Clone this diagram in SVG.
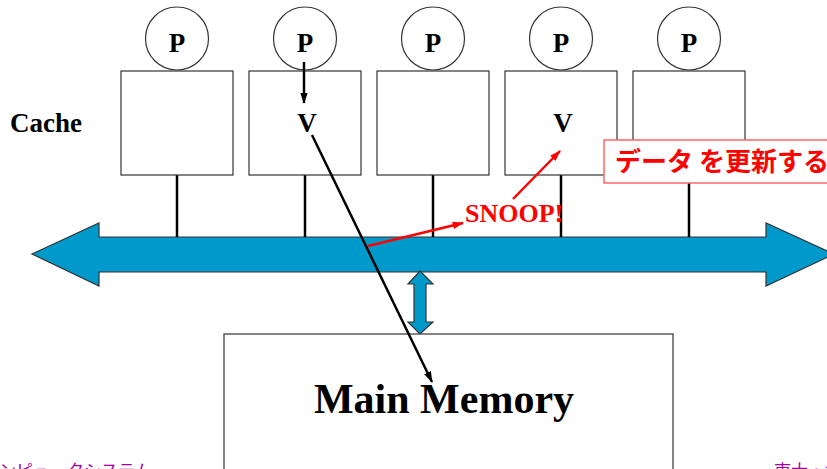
<svg xmlns="http://www.w3.org/2000/svg" width="827" height="469" viewBox="0 0 827 469">
<defs>
<style>
.box{fill:#fff;stroke:#333;stroke-width:1.2}
.proc{fill:#fff;stroke:#333;stroke-width:1.2}
.lbl{font-family:"Liberation Serif","Times New Roman",serif;font-weight:bold;fill:#000}
.tap{stroke:#000;stroke-width:2.5}
.bus{fill:#0099cc;stroke:#333;stroke-width:1.2}
.red{stroke:#ff0000;stroke-width:2.5;fill:none}
.foot{font-family:"Noto Sans CJK JP",sans-serif;fill:#a000a0;font-size:17px}
</style>
<marker id="ab" viewBox="0 0 12 8" refX="11" refY="4" markerWidth="4.5" markerHeight="3.2" orient="auto" markerUnits="strokeWidth"><path d="M0,0 L12,4 L0,8 z" fill="#000"/></marker>
<marker id="ar" viewBox="0 0 12 8" refX="11" refY="4" markerWidth="4.5" markerHeight="3.2" orient="auto" markerUnits="strokeWidth"><path d="M0,0 L12,4 L0,8 z" fill="#ff0000"/></marker>
</defs>
<rect width="827" height="469" fill="#fff"/>

<g id="bus">
<path class="bus" d="M32,254 L99,223 L99,237 L766,237 L766,223 L834,254 L766,286 L766,272 L99,272 L99,286 Z"/>
</g>

<g id="memlink">
<path class="bus" d="M420,271 L433,284 L426,284 L426,322 L433,322 L420,334 L408,322 L414,322 L414,284 L408,284 Z"/>
</g>

<g id="memory">
<rect class="box" x="224" y="334" width="449" height="150"/>
<text class="lbl" x="444" y="413" font-size="42" text-anchor="middle">Main Memory</text>
</g>

<text class="lbl" x="10" y="132" font-size="27">Cache</text>

<g id="node1">
<line class="tap" x1="177" y1="175" x2="177" y2="237"/>
<rect class="box" x="121" y="71" width="112" height="104"/>
<circle class="proc" cx="177" cy="38.5" r="31.5"/>
<text class="lbl" x="177" y="52" font-size="27" text-anchor="middle">P</text>
</g>
<g id="node2">
<line class="tap" x1="305" y1="175" x2="305" y2="237"/>
<rect class="box" x="249" y="71" width="112" height="104"/>
<circle class="proc" cx="305" cy="38.5" r="31.5"/>
<text class="lbl" x="305" y="52" font-size="27" text-anchor="middle">P</text>
<text class="lbl" x="307" y="132" font-size="27" text-anchor="middle">V</text>
</g>
<g id="node3">
<line class="tap" x1="433" y1="175" x2="433" y2="237"/>
<rect class="box" x="377" y="71" width="112" height="104"/>
<circle class="proc" cx="433" cy="38.5" r="31.5"/>
<text class="lbl" x="433" y="52" font-size="27" text-anchor="middle">P</text>
</g>
<g id="node4">
<line class="tap" x1="561" y1="175" x2="561" y2="237"/>
<rect class="box" x="505" y="71" width="112" height="104"/>
<circle class="proc" cx="561" cy="38.5" r="31.5"/>
<text class="lbl" x="561" y="52" font-size="27" text-anchor="middle">P</text>
<text class="lbl" x="563" y="132" font-size="27" text-anchor="middle">V</text>
</g>
<g id="node5">
<line class="tap" x1="689" y1="175" x2="689" y2="237"/>
<rect class="box" x="633" y="71" width="112" height="104"/>
<circle class="proc" cx="689" cy="38.5" r="31.5"/>
<text class="lbl" x="689" y="52" font-size="27" text-anchor="middle">P</text>
</g>

<g id="connectors">
<line x1="304" y1="62" x2="304" y2="103" stroke="#000" stroke-width="2.5" marker-end="url(#ab)"/>
<line x1="312" y1="135" x2="432" y2="382" stroke="#000" stroke-width="2.5" marker-end="url(#ab)"/>
<line class="red" x1="368" y1="246" x2="463" y2="223" marker-end="url(#ar)"/>
<line class="red" x1="513" y1="199" x2="560" y2="151" marker-end="url(#ar)"/>
</g>

<text class="lbl" x="465" y="222" font-size="26" style="fill:#ff0000">SNOOP!</text>

<g id="note">
<rect x="604" y="140" width="240" height="43" fill="#fff" stroke="#ff6666" stroke-width="1.5"/>
<text x="615" y="171" font-family="'Noto Sans CJK JP',sans-serif" font-weight="bold" font-size="26" fill="#ff0000">データ を更新する</text>
</g>

<text class="foot" x="-18" y="477">コンピュータシステム</text>
<text class="foot" x="774" y="477">東大・坂井</text>
</svg>
